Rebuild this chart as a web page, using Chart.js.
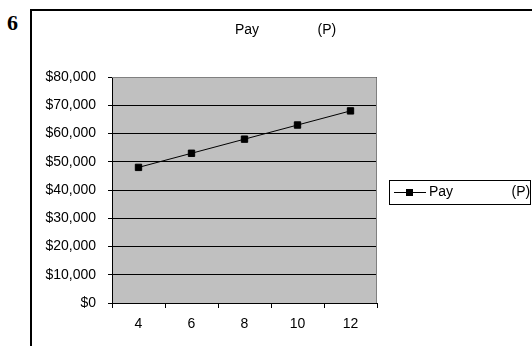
<!DOCTYPE html>
<html lang="en">
<head>
  <meta charset="UTF-8">
  <title>Pay (P)</title>
  <style>
    body { margin: 0; background: #fff; }
    #wrap { position: relative; width: 532px; height: 346px; overflow: hidden; }
    #num { position: absolute; left: 7px; top: 10px; font: bold 22px 'Liberation Serif', 'DejaVu Serif', serif; color: #000; }
    #frame { position: absolute; left: 30px; top: 9px; width: 600px; height: 400px; border-left: 2px solid #000; border-top: 2px solid #000; }
    #box { position: absolute; left: 0; top: 0; width: 532px; height: 346px; }
  </style>
  <script src="https://cdn.jsdelivr.net/npm/chart.js"></script>
</head>
<body>
<div id="wrap">
  <div id="num">6</div>
  <div id="frame"></div>
  <div id="box"><canvas id="payChart"></canvas></div>
</div>

<script>
const chartTitle = 'Pay               (P)';
const seriesLabel = 'Pay               (P)';
const years = ['4', '6', '8', '10', '12'];
const pay = [48000, 53000, 58000, 63000, 68000];
const yTicks = ['$0', '$10,000', '$20,000', '$30,000', '$40,000', '$50,000', '$60,000', '$70,000', '$80,000'];

const font = "14px 'Liberation Sans', Arial, sans-serif";

// グレーの背景と枠、タイトル、凡例
const excelLook = {
  id: 'excelLook',
  beforeDraw(chart) {
    const { ctx, chartArea: a } = chart;
    ctx.save();
    ctx.fillStyle = '#c0c0c0';
    ctx.fillRect(a.left, a.top, a.right - a.left, a.bottom - a.top);
    ctx.restore();
  },
  afterDatasetsDraw(chart) {
    const { ctx, chartArea: a } = chart;
    ctx.save();
    ctx.strokeStyle = '#808080';
    ctx.lineWidth = 1;
    ctx.beginPath();
    ctx.moveTo(a.left, a.top + 0.5);
    ctx.lineTo(a.right - 0.5, a.top + 0.5);
    ctx.lineTo(a.right - 0.5, a.bottom);
    ctx.stroke();

    // title
    ctx.fillStyle = '#000';
    ctx.font = font;
    ctx.textBaseline = 'alphabetic';
    ctx.textAlign = 'left';
    ctx.fillText(chartTitle, 235, 34);

    // legend
    const ds = chart.data.datasets[0];
    ctx.strokeStyle = '#000';
    ctx.strokeRect(389.5, 180.5, 141, 24);
    const ly = 192.5;
    ctx.strokeStyle = ds.borderColor;
    ctx.beginPath();
    ctx.moveTo(394, ly);
    ctx.lineTo(426, ly);
    ctx.stroke();
    ctx.fillStyle = ds.pointBackgroundColor;
    ctx.fillRect(406, ly - 3.5, 7, 7);
    ctx.fillStyle = '#000';
    ctx.textBaseline = 'middle';
    ctx.fillText(seriesLabel, 429, ly);
    ctx.restore();
  }
};

const ctx = document.getElementById('payChart').getContext('2d');
new Chart(ctx, {
  type: 'line',
  data: {
    labels: years,
    datasets: [{
      label: seriesLabel,
      data: pay,
      borderColor: '#000',
      borderWidth: 1,
      backgroundColor: '#000',
      pointStyle: 'rect',
      pointRadius: 4.5,
      pointBorderWidth: 1,
      pointBackgroundColor: '#000',
      pointBorderColor: '#000',
      tension: 0
    }]
  },
  plugins: [excelLook],
  options: {
    responsive: true,
    maintainAspectRatio: false,
    animation: false,
    layout: { padding: { top: 77, right: 155, left: 0, bottom: 0 } },
    plugins: { legend: { display: false }, title: { display: false }, tooltip: { enabled: false } },
    scales: {
      x: {
        offset: true,
        grid: { offset: true, drawOnChartArea: false, drawTicks: true, tickLength: 5, color: '#000' },
        border: { color: '#000', width: 1 },
        ticks: { color: '#000', font: { family: "'Liberation Sans', Arial, sans-serif", size: 14 }, padding: 8, maxRotation: 0 },
        afterFit(scale) { scale.height = 43; }
      },
      y: {
        min: 0,
        max: 80000,
        grid: { color: '#000', tickLength: 4 },
        border: { color: '#000', width: 1 },
        ticks: {
          stepSize: 10000,
          color: '#000',
          font: { family: "'Liberation Sans', Arial, sans-serif", size: 14 },
          padding: 12,
          callback: v => yTicks[Math.round(v / 10000)]
        },
        afterFit(scale) { scale.width = 112; }
      }
    }
  }
});
</script>
</body>
</html>
